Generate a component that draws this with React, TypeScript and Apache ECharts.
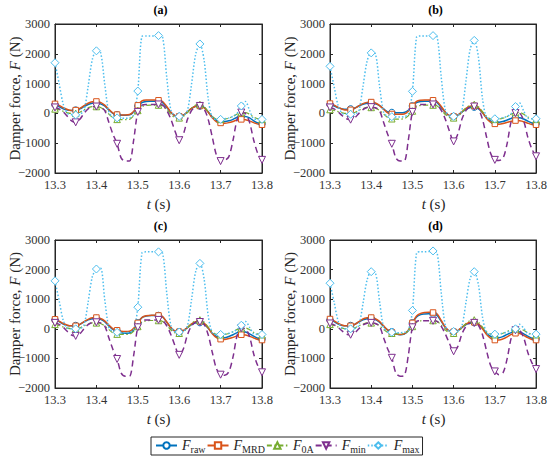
import React, { useEffect, useRef } from "react";
import * as echarts from "echarts";

// time samples (s)
const T = [
  13.30, 13.31, 13.32, 13.33, 13.34, 13.35, 13.36, 13.37, 13.38, 13.39,
  13.40, 13.41, 13.42, 13.43, 13.44, 13.45, 13.46, 13.47, 13.48, 13.49,
  13.50, 13.51, 13.52, 13.53, 13.54, 13.55, 13.56, 13.57, 13.58, 13.59,
  13.60, 13.61, 13.62, 13.63, 13.64, 13.65, 13.66, 13.67, 13.68, 13.69,
  13.70, 13.71, 13.72, 13.73, 13.74, 13.75, 13.76, 13.77, 13.78, 13.79,
  13.80,
];

const PANEL_TITLES = ["(a)", "(b)", "(c)", "(d)"];
const SERIES_NAMES = ["F_raw", "F_MRD", "F_0A", "F_min", "F_max"];
const X_TICKS = [13.3, 13.4, 13.5, 13.6, 13.7, 13.8];
const Y_TICKS = [-2000, -1000, 0, 1000, 2000, 3000];

// ---- panel (a)
const RAW_A = [290, 230, 150, 110, 100, 110, 150, 230, 300, 340, 350, 320, 250, 120, 0, -50, -60, -60, -50, 50, 250, 360, 400, 410, 410, 400, 360, 200, 30, -80, -100, -60, 50, 170, 240, 250, 200, 50, -120, -230, -270, -270, -250, -200, -130, -100, -100, -150, -250, -320, -350];
const MRD_A = [320, 270, 190, 130, 100, 110, 170, 260, 340, 390, 400, 370, 280, 140, 10, -40, -50, -50, -40, 60, 270, 420, 450, 450, 450, 440, 400, 230, 40, -80, -100, -60, 50, 170, 240, 250, 190, 40, -150, -280, -320, -330, -310, -270, -220, -200, -210, -250, -310, -360, -380];
const F0A_A = [150, 120, 70, 20, 0, 0, 40, 120, 190, 230, 230, 200, 120, -20, -150, -200, -210, -210, -200, -80, 100, 230, 270, 280, 280, 280, 250, 120, -40, -140, -150, -100, 30, 180, 280, 300, 230, 60, -100, -190, -200, -190, -160, -100, -20, 30, 30, -30, -120, -180, -200];
const MIN_A = [200, 150, 50, -100, -250, -300, -200, 0, 150, 220, 230, 200, 100, -300, -700, -1020, -1500, -1600, -1600, -900, 50, 280, 300, 300, 300, 300, 280, 100, -200, -600, -900, -700, -200, 100, 230, 250, 150, -200, -800, -1400, -1600, -1580, -1450, -900, -200, 30, 0, -300, -900, -1350, -1560];
const MAX_A = [1700, 1000, 300, 0, -40, -50, -30, 100, 900, 1800, 2100, 2050, 1000, 50, -130, -150, -160, -160, -150, -50, 750, 2580, 2600, 2600, 2600, 2610, 2550, 1200, 100, -80, -100, -80, 100, 1000, 2000, 2330, 1800, 500, -150, -200, -200, -180, -150, -100, 0, 250, 400, 100, -180, -200, -200];

// ---- panel (b)
const RAW_B = [300, 250, 190, 150, 140, 150, 180, 250, 310, 340, 350, 320, 260, 150, 50, 30, 20, 20, 30, 100, 250, 360, 400, 410, 410, 400, 360, 200, 30, -80, -100, -60, 40, 140, 200, 210, 160, 20, -150, -260, -300, -300, -270, -220, -170, -150, -150, -190, -260, -320, -350];
const MRD_B = [330, 280, 200, 140, 110, 120, 170, 250, 330, 370, 380, 350, 270, 140, 20, -20, -30, -30, -20, 70, 250, 400, 440, 450, 450, 440, 400, 230, 40, -80, -100, -60, 50, 170, 240, 250, 190, 30, -170, -300, -350, -360, -340, -300, -260, -240, -250, -280, -330, -370, -380];
const F0A_B = [130, 100, 60, 20, 0, 0, 30, 100, 160, 200, 200, 180, 100, -20, -140, -180, -190, -190, -180, -80, 80, 220, 270, 280, 280, 280, 250, 120, -40, -140, -150, -100, 30, 180, 280, 300, 230, 60, -100, -190, -200, -190, -160, -100, -20, 30, 30, -30, -120, -180, -200];
const MIN_B = [200, 150, 50, -80, -180, -210, -150, 0, 130, 200, 210, 190, 100, -300, -700, -1020, -1500, -1600, -1600, -900, 50, 270, 300, 300, 300, 300, 280, 100, -200, -600, -940, -700, -200, 100, 220, 230, 150, -200, -800, -1350, -1560, -1580, -1500, -1000, -250, 10, 0, -250, -800, -1200, -1440];
const MAX_B = [1580, 900, 250, 0, -30, -30, -20, 100, 900, 1750, 2030, 2000, 950, 50, -100, -110, -120, -120, -110, -30, 740, 2560, 2600, 2600, 2600, 2610, 2560, 1200, 100, -80, -100, -80, 100, 1100, 2150, 2450, 1900, 500, -150, -180, -180, -170, -140, -100, 0, 230, 350, 80, -160, -180, -180];

// ---- panel (c)
const RAW_C = [300, 240, 160, 110, 100, 110, 150, 230, 300, 340, 350, 320, 240, 100, -20, -80, -130, -150, -140, -40, 200, 380, 430, 450, 450, 450, 400, 220, 30, -80, -100, -60, 40, 140, 200, 210, 160, 20, -150, -260, -300, -300, -260, -200, -130, -100, -110, -170, -250, -320, -350];
const MRD_C = [320, 260, 180, 120, 100, 100, 150, 240, 320, 370, 380, 350, 270, 130, 0, -50, -80, -90, -80, 20, 200, 380, 440, 450, 460, 450, 410, 230, 40, -80, -100, -60, 50, 170, 240, 250, 190, 30, -170, -300, -350, -360, -330, -290, -240, -200, -210, -250, -310, -360, -380];
const F0A_C = [150, 110, 60, 20, 0, 0, 30, 100, 160, 200, 200, 180, 100, -20, -140, -180, -190, -190, -180, -80, 80, 220, 270, 280, 280, 280, 250, 120, -40, -140, -150, -100, 30, 180, 280, 300, 230, 60, -100, -190, -200, -190, -160, -100, -20, 30, 30, -30, -120, -180, -200];
const MIN_C = [200, 150, 50, -90, -210, -240, -170, 0, 140, 210, 220, 200, 100, -300, -700, -1020, -1500, -1600, -1600, -900, 50, 280, 300, 300, 300, 300, 280, 100, -200, -580, -880, -680, -200, 100, 220, 230, 150, -200, -800, -1350, -1550, -1570, -1450, -950, -220, 20, 0, -270, -850, -1250, -1470];
const MAX_C = [1620, 950, 280, 20, 0, 0, 10, 120, 900, 1750, 2020, 2050, 1000, 50, -100, -120, -130, -130, -120, -40, 730, 2560, 2600, 2600, 2600, 2600, 2550, 1200, 100, -90, -110, -90, 100, 1000, 1950, 2210, 1700, 450, -150, -190, -190, -180, -150, -100, -20, 120, 250, 50, -170, -190, -190];

// ---- panel (d)
const RAW_D = [300, 240, 160, 110, 100, 110, 150, 230, 300, 340, 350, 310, 220, 80, -40, -100, -170, -200, -180, -60, 200, 400, 480, 500, 510, 500, 450, 250, 40, -80, -100, -60, 40, 140, 200, 210, 160, 20, -150, -260, -300, -300, -260, -190, -130, -100, -110, -170, -250, -320, -350];
const MRD_D = [330, 270, 180, 120, 100, 100, 150, 240, 330, 370, 380, 340, 250, 100, -50, -120, -180, -190, -170, -50, 200, 430, 520, 550, 560, 550, 500, 280, 50, -80, -100, -60, 50, 160, 220, 220, 160, 0, -190, -320, -380, -380, -340, -270, -190, -150, -160, -220, -300, -360, -380];
const F0A_D = [150, 110, 60, 20, 0, 0, 30, 100, 160, 200, 200, 180, 100, -20, -120, -150, -170, -170, -160, -70, 80, 220, 270, 280, 280, 280, 250, 120, -40, -140, -150, -100, 30, 180, 280, 300, 230, 60, -100, -180, -200, -190, -150, -90, -30, 0, 0, -50, -130, -180, -200];
const MIN_D = [180, 130, 40, -80, -180, -200, -140, 0, 130, 190, 200, 180, 90, -300, -680, -980, -1500, -1600, -1580, -900, 50, 250, 270, 270, 270, 270, 250, 80, -180, -500, -760, -600, -180, 80, 190, 200, 120, -200, -750, -1250, -1440, -1550, -1480, -1000, -300, -50, -60, -300, -800, -1150, -1360];
const MAX_D = [1540, 900, 250, 20, 0, 0, 10, 120, 850, 1650, 1930, 1900, 950, 50, -100, -120, -130, -130, -120, -50, 620, 2560, 2600, 2600, 2610, 2630, 2560, 1200, 100, -70, -90, -70, 100, 900, 1700, 1930, 1500, 400, -140, -180, -180, -170, -150, -110, -60, 0, 150, 20, -160, -180, -180];

const PANEL_DATA = [
  [RAW_A, MRD_A, F0A_A, MIN_A, MAX_A],
  [RAW_B, MRD_B, F0A_B, MIN_B, MAX_B],
  [RAW_C, MRD_C, F0A_C, MIN_C, MAX_C],
  [RAW_D, MRD_D, F0A_D, MIN_D, MAX_D],
];

// ---- layout & styles
const FONT = "Liberation Serif";
const INK = "#262626";
const GRID_POS = [
  { left: 55, top: 24, width: 207, height: 149 },
  { left: 330, top: 24, width: 207, height: 149 },
  { left: 55, top: 240, width: 207, height: 148 },
  { left: 330, top: 240, width: 207, height: 148 },
];
const STYLES = [
  { color: "#0072BD", symbol: "circle", size: 6.5, rotate: 0, width: 1.5, type: "solid" as any },
  { color: "#D95319", symbol: "rect", size: 5.5, rotate: 0, width: 1.5, type: "solid" as any },
  { color: "#77AC30", symbol: "triangle", size: 6.5, rotate: 0, width: 1.2, type: [5, 2.5, 1.5, 2.5] as any },
  { color: "#7E2F8E", symbol: "triangle", size: 7, rotate: 180, width: 1.5, type: [6, 4] as any },
  { color: "#4DBEEE", symbol: "diamond", size: 8, rotate: 0, width: 1.5, type: [1.5, 2] as any },
];

function fmtY(v: number) {
  return v < 0 ? "\u2212" + Math.abs(v) : String(v);
}

function buildOption() {
  const grid: any[] = [];
  const xAxis: any[] = [];
  const yAxis: any[] = [];
  const series: any[] = [];
  const graphic: any[] = [];

  GRID_POS.forEach((g, i) => {
    grid.push({ ...g, show: true, borderColor: INK, borderWidth: 1, backgroundColor: "transparent" });
    const xBase = {
      type: "value",
      gridIndex: i,
      min: X_TICKS[0],
      max: X_TICKS[X_TICKS.length - 1],
      interval: 0.1,
      splitLine: { show: false },
      axisLine: { show: true, onZero: false, lineStyle: { color: INK, width: 1 } },
      axisTick: { show: true, inside: true, length: 3, lineStyle: { color: INK } },
    };
    xAxis.push({
      ...xBase,
      position: "bottom",
      axisLabel: { color: "#333", fontFamily: FONT, fontSize: 12.5, margin: 5, formatter: (v: number) => v.toFixed(1) },
    });
    xAxis.push({ ...xBase, position: "top", axisLabel: { show: false } });
    const yBase = {
      type: "value",
      gridIndex: i,
      min: Y_TICKS[0],
      max: Y_TICKS[Y_TICKS.length - 1],
      interval: 1000,
      splitLine: { show: false },
      axisLine: { show: true, onZero: false, lineStyle: { color: INK, width: 1 } },
      axisTick: { show: true, inside: true, length: 3, lineStyle: { color: INK } },
    };
    yAxis.push({
      ...yBase,
      position: "left",
      axisLabel: { color: "#333", fontFamily: FONT, fontSize: 12.5, margin: 5, formatter: fmtY },
    });
    yAxis.push({ ...yBase, position: "right", axisLabel: { show: false } });

    PANEL_DATA[i].forEach((vals, s) => {
      const st = STYLES[s];
      series.push({
        name: SERIES_NAMES[s],
        type: "line",
        xAxisIndex: i * 2,
        yAxisIndex: i * 2,
        smooth: 0.3,
        symbol: st.symbol,
        symbolSize: st.size,
        symbolRotate: st.rotate,
        showSymbol: true,
        color: st.color,
        lineStyle: { color: st.color, width: st.width, type: st.type },
        itemStyle: { color: "#fff", borderColor: st.color, borderWidth: 1 },
        emphasis: { disabled: true },
        data: T.map((t, k) => (k % 5 === 0 ? [t, vals[k]] : { value: [t, vals[k]], symbol: "none" })),
      });
    });

    const cx = g.left + g.width / 2 + 2;
    graphic.push({
      type: "text",
      x: cx,
      y: g.top - 14,
      style: { text: PANEL_TITLES[i], fontFamily: FONT, fontSize: 12, fontWeight: "bold", fill: "#000", textAlign: "center", textVerticalAlign: "middle" },
    });
    graphic.push({
      type: "text",
      x: g.left + g.width / 2,
      y: g.top + g.height + 31,
      style: {
        text: "{i|t} (s)",
        fill: INK,
        textAlign: "center",
        textVerticalAlign: "middle",
        rich: {
          i: { fontFamily: FONT, fontSize: 15, fontStyle: "italic", fill: INK },
        },
        fontFamily: FONT,
        fontSize: 15,
      },
    });
    graphic.push({
      type: "text",
      x: g.left - 40,
      y: g.top + g.height / 2,
      rotation: Math.PI / 2,
      style: {
        text: "Damper force, {i|F} (N)",
        fill: INK,
        textAlign: "center",
        textVerticalAlign: "middle",
        rich: {
          i: { fontFamily: FONT, fontSize: 15, fontStyle: "italic", fill: INK },
        },
        fontFamily: FONT,
        fontSize: 15,
      },
    });
  });

  return {
    animation: false,
    backgroundColor: "#fff",
    grid,
    xAxis,
    yAxis,
    series,
    graphic,
    legend: {
      data: SERIES_NAMES,
      left: 151,
      top: 437,
      orient: "horizontal",
      itemWidth: 21,
      itemHeight: 8,
      itemGap: 1,
      padding: [1, 3, 1, 4],
      borderColor: INK,
      borderWidth: 1,
      backgroundColor: "#fff",
      selectedMode: false,
      formatter: (name: string) => "{i|F}{s|" + name.split("_")[1] + "}",
      textStyle: {
        fontFamily: FONT,
        color: INK,
        rich: {
          i: { fontFamily: FONT, fontSize: 14, fontStyle: "italic", color: INK, lineHeight: 15, verticalAlign: "top" },
          s: { fontFamily: FONT, fontSize: 10, color: INK, lineHeight: 10, padding: [6, 0, 0, 0], verticalAlign: "top" },
        },
      },
    },
  };
}

export default function App() {
  const ref = useRef<HTMLDivElement>(null);
  useEffect(() => {
    if (!ref.current) return;
    const chart = echarts.init(ref.current, undefined, { renderer: "svg" });
    chart.setOption(buildOption() as any);
    return () => chart.dispose();
  }, []);
  return <div ref={ref} style={{ position: "fixed", left: 0, top: 0, width: 550, height: 460 }} />;
}
